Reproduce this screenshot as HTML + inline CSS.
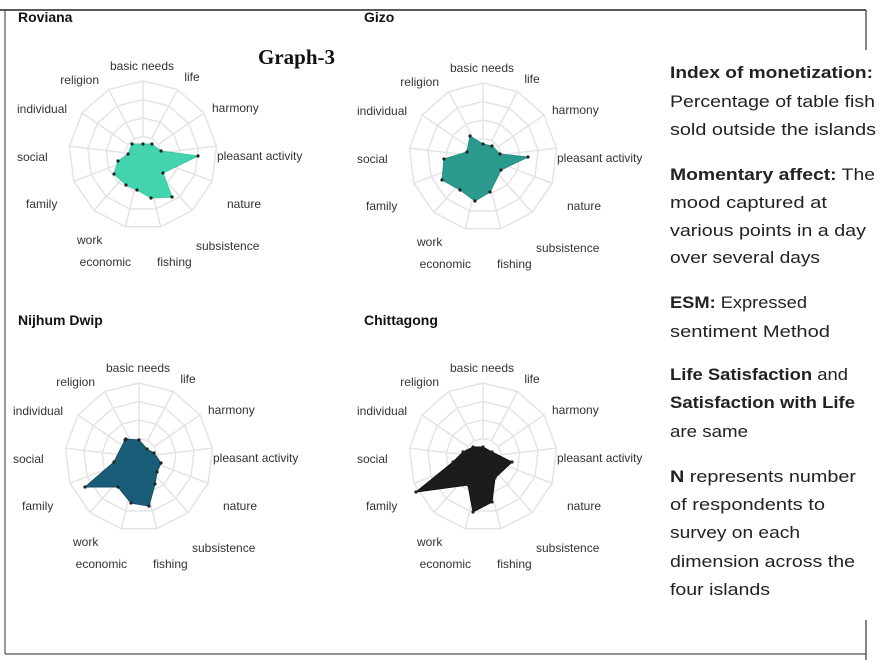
<!DOCTYPE html>
<html><head><meta charset="utf-8"><style>
html,body{margin:0;padding:0;background:#fff;}
svg{display:block;}
.l{font-family:"Liberation Sans",Arial,sans-serif;font-size:12px;fill:#333;}
.t{font-family:"Liberation Sans",Arial,sans-serif;font-size:14px;font-weight:bold;fill:#111;}
.r{font-family:"Liberation Sans",Arial,sans-serif;font-size:16.5px;fill:#222;}
</style></head><body>
<svg id="s" width="880" height="663" viewBox="0 0 880 663" xmlns="http://www.w3.org/2000/svg">
<rect width="880" height="663" fill="#fff"/>
<line x1="0" y1="10" x2="866" y2="10" stroke="#222" stroke-width="1.5"/>
<line x1="5" y1="10" x2="5" y2="654" stroke="#555" stroke-width="1.2"/>
<line x1="5" y1="654" x2="866" y2="654" stroke="#555" stroke-width="1.2"/>
<line x1="866" y1="10" x2="866" y2="50" stroke="#333" stroke-width="1.2"/>
<line x1="866" y1="620" x2="866" y2="660" stroke="#333" stroke-width="1.2"/>
<g id="grids"></g>
<polygon class="d" fill="#43d3ad" stroke="#3cc9a5" points="132,144 143,144 152,144 161,151 198,156 163,173 172,197 151,198 137,190 126,185 114,174 118,161 128,154"/>
<polygon class="d" fill="#2a9a8e" stroke="#268f84" points="470,136 483,144 492,146 500,154 528,157 501,170 490,192 475,201 460,190 442,180 444,159 467,152"/>
<polygon class="d" fill="#195d78" stroke="#164f66" points="126,439 139,440 147,449 154,453 161,463 157,472 155,484 149,506 131,503 118,487 85,487 114,462 125,440"/>
<polygon class="d" fill="#1c1c1c" stroke="#111" points="473,447 483,447 492,452 512,462 495,478 492,502 473,512 468,485 416,492 453,462 463,452"/>
<g id="dots"></g>
<text x="18" y="22" class="t">Roviana</text>
<text x="364" y="22" class="t">Gizo</text>
<text x="18" y="325" class="t">Nijhum Dwip</text>
<text x="364" y="325" class="t">Chittagong</text>
<text x="258" y="64" font-family="'Liberation Serif',serif" font-size="21" font-weight="bold" fill="#111">Graph-3</text>
<g id="labels"></g>
<text x="670" y="78" class="r" textLength="203" lengthAdjust="spacingAndGlyphs"><tspan font-weight="bold">Index of monetization:</tspan></text>
<text x="670" y="107" class="r" textLength="205" lengthAdjust="spacingAndGlyphs">Percentage of table fish</text>
<text x="670" y="135" class="r" textLength="206" lengthAdjust="spacingAndGlyphs">sold outside the islands</text>
<text x="670" y="180" class="r" textLength="205" lengthAdjust="spacingAndGlyphs"><tspan font-weight="bold">Momentary affect:</tspan> The</text>
<text x="670" y="208" class="r" textLength="157" lengthAdjust="spacingAndGlyphs">mood captured at</text>
<text x="670" y="236" class="r" textLength="196" lengthAdjust="spacingAndGlyphs">various points in a day</text>
<text x="670" y="263" class="r" textLength="150" lengthAdjust="spacingAndGlyphs">over several days</text>
<text x="670" y="308" class="r" textLength="137" lengthAdjust="spacingAndGlyphs"><tspan font-weight="bold">ESM:</tspan> Expressed</text>
<text x="670" y="337" class="r" textLength="160" lengthAdjust="spacingAndGlyphs">sentiment Method</text>
<text x="670" y="380" class="r" textLength="178" lengthAdjust="spacingAndGlyphs"><tspan font-weight="bold">Life Satisfaction</tspan> and</text>
<text x="670" y="408" class="r" textLength="185" lengthAdjust="spacingAndGlyphs" font-weight="bold">Satisfaction with Life</text>
<text x="670" y="437" class="r" textLength="78" lengthAdjust="spacingAndGlyphs">are same</text>
<text x="670" y="482" class="r" textLength="186" lengthAdjust="spacingAndGlyphs"><tspan font-weight="bold">N</tspan> represents number</text>
<text x="670" y="510" class="r" textLength="155" lengthAdjust="spacingAndGlyphs">of respondents to</text>
<text x="670" y="538" class="r" textLength="130" lengthAdjust="spacingAndGlyphs">survey on each</text>
<text x="670" y="567" class="r" textLength="185" lengthAdjust="spacingAndGlyphs">dimension across the</text>
<text x="670" y="595" class="r" textLength="100" lengthAdjust="spacingAndGlyphs">four islands</text>
</svg>
<script>
var NS="http://www.w3.org/2000/svg";
var centers=[[143,155],[483,157],[139,457],[483,457]];
var g=document.getElementById("grids"),L=document.getElementById("labels"),D=document.getElementById("dots");
var R=74,N=13;
var labs=[["basic needs",-1,-89,"middle"],["life",49,-78,"middle"],["harmony",69,-47,"start"],["pleasant activity",74,1,"start"],["nature",84,49,"start"],["subsistence",53,91,"start"],["fishing",14,107,"start"],["economic",-12,107,"end"],["work",-66,85,"start"],["family",-117,49,"start"],["social",-126,2,"start"],["individual",-126,-46,"start"],["religion",-44,-75,"end"]];
centers.forEach(function(c){
  for(var k=1;k<=4;k++){var r=R*k/4,pts=[];
    for(var i=0;i<N;i++){var a=i*2*Math.PI/N;pts.push((c[0]+r*Math.sin(a)).toFixed(1)+","+(c[1]-r*Math.cos(a)).toFixed(1));}
    var p=document.createElementNS(NS,"polygon");p.setAttribute("points",pts.join(" "));p.setAttribute("fill","none");p.setAttribute("stroke","#e4e4e4");p.setAttribute("stroke-width","1.5");g.appendChild(p);}
  for(var i=0;i<N;i++){var a=i*2*Math.PI/N,l=document.createElementNS(NS,"line");
    l.setAttribute("x1",c[0]+R/4*Math.sin(a));l.setAttribute("y1",c[1]-R/4*Math.cos(a));
    l.setAttribute("x2",c[0]+R*Math.sin(a));l.setAttribute("y2",c[1]-R*Math.cos(a));
    l.setAttribute("stroke","#e4e4e4");l.setAttribute("stroke-width","1.5");g.appendChild(l);}
  labs.forEach(function(b){var t=document.createElementNS(NS,"text");t.setAttribute("class","l");
    t.setAttribute("x",c[0]+b[1]);t.setAttribute("y",c[1]+b[2]+4);t.setAttribute("text-anchor",b[3]);t.textContent=b[0];L.appendChild(t);});
});
document.querySelectorAll("polygon.d").forEach(function(p){
  p.getAttribute("points").split(" ").forEach(function(s){var xy=s.split(",");
    var c=document.createElementNS(NS,"circle");c.setAttribute("cx",xy[0]);c.setAttribute("cy",xy[1]);c.setAttribute("r","1.6");c.setAttribute("fill","#222");D.appendChild(c);});
});
</script>
</body></html>
